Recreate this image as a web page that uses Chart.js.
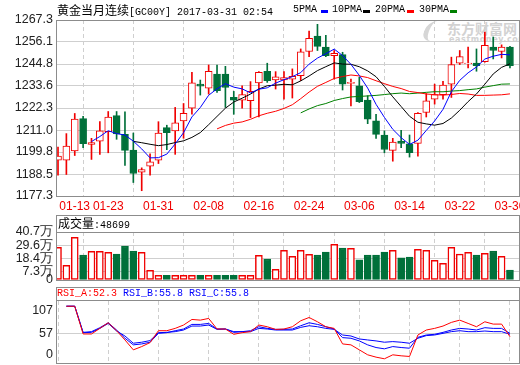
<!DOCTYPE html>
<html><head><meta charset="utf-8">
<script src="https://cdn.jsdelivr.net/npm/chart.js@4"></script>
<style>
body{margin:0;background:#fff;width:520px;height:365px;overflow:hidden;position:relative;}
canvas{position:absolute;left:0;z-index:1;}
.t{position:absolute;font-family:"Liberation Mono",monospace;font-size:10px;line-height:14px;white-space:pre;z-index:3;color:#000;}
.cjk{font-family:"Noto Sans CJK SC";font-size:12px;}
.box{position:absolute;border:1px solid #8c8c8c;box-sizing:border-box;pointer-events:none;z-index:2;}
.sw{position:absolute;height:3px;width:7px;z-index:3;}
.wm{position:absolute;color:#d2d2d2;z-index:0;white-space:pre;}
</style></head>
<body>
<div class="wm" style="left:424px;top:21px;width:14px;height:20px;border-left:5px solid #d6d6d6;border-radius:60% 0 0 60%;transform:skewX(-20deg);"></div>
<div class="wm" style="left:447px;top:18px;font:bold 14px 'Noto Sans CJK SC';">东方财富网</div>
<div class="wm" style="left:449px;top:35px;font:bold 8px 'DejaVu Sans';letter-spacing:0.6px;">eastmoney.com</div>

<div class="t" style="left:57px;top:3px"><span class="cjk">黄金当月连续</span>[GC00Y] 2017-03-31 02:54</div>
<div class="t" style="left:293px;top:3px">5PMA</div><div class="sw" style="left:321px;top:10px;background:#0000ff"></div>
<div class="t" style="left:332px;top:3px">10PMA</div><div class="sw" style="left:363px;top:10px;background:#000"></div>
<div class="t" style="left:375px;top:3px">20PMA</div><div class="sw" style="left:407px;top:10px;background:#ff0000"></div>
<div class="t" style="left:419px;top:3px">30PMA</div><div class="sw" style="left:450px;top:10px;background:#008000"></div>

<div class="box" style="left:56px;top:20px;width:464px;height:177px"></div>
<div class="box" style="left:56px;top:215px;width:464px;height:66px"></div>
<div class="box" style="left:56px;top:215px;width:464px;height:18px"></div>
<div class="box" style="left:56px;top:287px;width:464px;height:77px"></div>
<div class="box" style="left:56px;top:287px;width:464px;height:14px"></div>
<div class="t" style="left:58px;top:216px"><span class="cjk">成交量</span>:48699</div>
<div class="t" style="left:57px;top:287px;line-height:13px"><span style="color:#ff0000">RSI_A:52.3</span> <span style="color:#0000ff">RSI_B:55.8</span> <span style="color:#0000ff">RSI_C:55.8</span></div>

<canvas id="c1" width="520" height="214" style="top:0"></canvas>
<canvas id="c2" width="520" height="67" style="top:220px"></canvas>
<canvas id="c3" width="520" height="75" style="top:290px"></canvas>

<script>
const dates = ['01-13','01-16','01-17','01-18','01-19','01-20','01-23','01-24','01-25','01-26','01-27','01-30','01-31','02-01','02-02','02-03','02-06','02-07','02-08','02-09','02-10','02-13','02-14','02-15','02-16','02-17','02-20','02-21','02-22','02-23','02-24','02-27','02-28','03-01','03-02','03-03','03-06','03-07','03-08','03-09','03-10','03-13','03-14','03-15','03-16','03-17','03-20','03-21','03-22','03-23','03-24','03-27','03-28','03-29','03-30'];
const opens = [1195.6,1195.6,1200.3,1216.9,1203.7,1205.4,1210.2,1218.4,1208.8,1200.8,1189.5,1192.6,1195.6,1212.3,1210.6,1215.7,1222.2,1234.5,1232.5,1239.7,1239.7,1227.7,1226.3,1226.0,1235.1,1241.1,1236.6,1236.6,1237.1,1238.8,1251.2,1259.1,1253.4,1249.0,1249.6,1234.9,1233.7,1226.3,1215.7,1208.5,1200.6,1205.4,1204.0,1204.2,1220.0,1226.8,1229.1,1234.5,1245.2,1245.0,1245.3,1246.0,1253.4,1251.2,1253.4];
const highs = [1202.3,1209.2,1219.5,1218.0,1206.8,1215.3,1220.5,1220.5,1220.3,1209.5,1191.7,1198.9,1215.3,1213.5,1222.6,1224.6,1240.5,1236.6,1244.3,1244.3,1243.6,1230.8,1233.7,1235.8,1240.9,1245.2,1240.9,1240.9,1242.3,1252.5,1261.6,1265.1,1259.4,1251.7,1250.8,1237.1,1238.0,1228.6,1219.1,1210.6,1206.8,1210.9,1208.5,1220.0,1229.7,1234.5,1235.9,1248.3,1251.7,1253.4,1252.5,1261.1,1258.6,1254.6,1253.8];
const lows = [1187.9,1188.3,1198.0,1202.0,1196.0,1198.6,1199.4,1206.3,1192.9,1184.2,1180.0,1187.9,1193.9,1201.0,1198.6,1206.8,1219.1,1228.9,1229.4,1230.3,1222.6,1219.1,1222.2,1217.4,1217.7,1235.4,1232.0,1226.8,1227.4,1236.3,1248.6,1251.7,1248.6,1237.1,1231.5,1223.4,1225.1,1214.3,1206.8,1199.4,1195.1,1202.0,1197.2,1197.7,1217.7,1224.3,1226.8,1227.7,1244.5,1242.8,1241.1,1245.7,1247.4,1247.9,1242.8];
const closes = [1197.7,1202.8,1216.6,1204.0,1204.6,1210.6,1217.7,1209.0,1200.6,1188.8,1190.8,1194.8,1209.5,1209.7,1214.7,1219.6,1235.2,1233.5,1241.1,1231.1,1232.8,1226.3,1229.1,1230.8,1240.6,1236.3,1238.3,1237.9,1238.5,1251.0,1257.9,1253.8,1249.1,1250.3,1234.5,1235.4,1225.6,1216.6,1208.8,1201.1,1204.9,1204.2,1199.4,1219.6,1226.0,1229.1,1234.0,1244.5,1248.6,1245.3,1244.0,1254.3,1251.7,1253.4,1244.0];
const ma5 = [null,null,null,null,1205.14,1207.72,1210.70,1209.18,1208.50,1205.34,1201.38,1196.80,1196.90,1198.72,1203.90,1209.66,1217.74,1222.54,1228.82,1232.10,1234.74,1232.96,1232.08,1230.02,1231.92,1232.62,1235.02,1236.78,1238.32,1240.40,1244.72,1247.82,1250.06,1252.42,1249.12,1244.62,1238.98,1232.48,1224.18,1217.50,1211.40,1207.12,1203.68,1205.84,1210.82,1215.66,1221.62,1230.64,1236.44,1240.30,1243.28,1247.34,1248.78,1249.74,1249.48];
const ma10 = [null,null,null,null,null,null,null,null,null,1205.24,1204.55,1203.75,1203.04,1203.61,1204.62,1205.52,1207.27,1209.72,1213.77,1218.00,1222.20,1225.35,1227.31,1229.42,1232.01,1233.68,1233.99,1234.43,1234.17,1236.16,1238.67,1241.42,1243.42,1245.37,1244.76,1244.67,1243.40,1241.27,1238.30,1233.31,1228.01,1223.05,1218.08,1215.01,1214.16,1213.53,1214.37,1217.16,1221.14,1225.56,1229.47,1234.48,1239.71,1243.09,1244.89];
const ma20 = [null,null,null,null,null,null,null,null,null,null,null,null,null,null,null,null,null,null,null,1211.62,1213.38,1214.55,1215.18,1216.52,1218.32,1219.60,1220.63,1222.08,1223.97,1227.08,1230.44,1233.39,1235.37,1237.40,1238.39,1239.18,1238.70,1237.85,1236.24,1234.74,1233.34,1232.24,1230.75,1230.19,1229.46,1229.10,1228.89,1229.22,1229.72,1229.44,1228.74,1228.77,1228.90,1229.05,1229.53];
const ma30 = [null,null,null,null,null,null,null,null,null,null,null,null,null,null,null,null,null,null,null,null,null,null,null,null,null,null,null,null,null,1219.80,1221.81,1223.51,1224.59,1226.13,1227.13,1227.96,1228.22,1228.47,1228.75,1229.16,1229.63,1229.94,1229.60,1229.93,1230.31,1230.63,1230.59,1230.95,1231.20,1231.68,1232.05,1232.98,1233.74,1234.49,1234.60];
const volumes = [27.7,12.4,36.2,21.2,24.3,24.3,23.5,22.0,28.8,24.6,23.5,8.2,4.0,4.0,4.0,4.0,4.0,4.0,4.0,4.0,4.0,4.0,4.0,4.0,21.0,17.8,9.0,25.2,20.1,25.2,21.8,21.2,23.7,30.2,27.1,26.9,17.0,21.2,21.2,23.7,25.2,18.7,19.5,26.0,25.2,16.7,14.1,27.7,22.0,23.5,21.2,22.6,24.6,20.1,8.5];
const rsiA = [null,100,100,55.9,55.9,64.8,73.7,61.1,46.4,30.7,35.9,42.2,61.1,61.1,64.8,70.1,79.0,77.9,80.6,63.8,63.8,55.4,58.0,59.6,70.1,67.4,63.2,63.8,67.4,76.9,82.1,75.3,67.4,64.8,40.1,38.6,30.7,22.8,19.1,16.5,22.8,21.2,20.2,54.3,62.2,64.8,68.5,74.3,77.9,72.7,67.4,75.3,71.6,71.6,51.7];
const rsiB = [null,100,100,58.5,59.6,65.9,73.7,62.2,49.1,38.6,40.1,42.8,56.9,58.0,61.1,63.8,71.1,71.1,72.7,63.8,63.8,58.5,59.6,61.1,67.4,64.8,63.2,63.2,63.8,69.0,73.7,71.1,67.4,63.8,50.1,49.1,44.9,38.6,34.4,32.3,35.9,34.4,33.3,50.6,54.3,55.4,58.5,62.2,64.8,63.8,62.2,65.9,64.8,64.8,56.9];
const rsiC = [null,100,100,58.0,58.5,64.8,72.7,60.6,52.7,41.2,42.8,45.4,58.0,58.5,59.6,62.2,68.5,68.5,70.1,63.2,63.8,59.6,59.6,59.6,64.8,63.8,62.2,62.2,62.2,66.4,69.0,67.4,64.8,63.2,54.3,52.7,48.0,46.4,44.9,42.8,43.8,42.8,41.2,49.1,53.3,54.3,56.9,59.6,61.1,59.6,59.6,60.6,59.6,59.6,55.4];
const priceTicks = ['1177.3','1188.5','1199.8','1211.0','1222.3','1233.6','1244.8','1256.1','1267.3'];
const volTicks = [0,7.3,18.4,29.6,40.7];
const volTickLabels = ['0','7.3万','18.4万','29.6万','40.7万'];
const rsiTickLabels = ['0','57','107'];

const RED='#f00000', GREEN='#00703a', GRID='#cfcfcf';
const up = closes.map((c,i)=>c>=opens[i]);
const LABEL_FONT={family:'Liberation Sans',size:12.5};

function xAxis(showLabels){
  return {
    type:'linear', min:-0.24, max:55.08, offset:false,
    grid:{color:GRID,lineWidth:1,drawTicks:false},
    border:{display:false,dash:[4,3]},
    ticks:{display:showLabels,color:RED,font:{family:'Liberation Sans',size:12},padding:3,maxRotation:0,autoSkip:false,
      callback:(v)=> v===0 ? '          '+dates[v] : dates[v]},
    afterBuildTicks:s=>{ s.ticks = dates.map((d,i)=>i).filter(i=>i%6===0).map(v=>({value:v})); },
    afterFit:s=>{ s.paddingLeft=0; s.paddingRight=0; s.height = showLabels?18:0; }
  };
}
function yAxis(min,max,tickVals,labels,gridFn){
  return {
    position:'left', min:min, max:max,
    grid:{color:gridFn||GRID,drawTicks:false},
    border:{display:false},
    ticks:{color:'#222',font:LABEL_FONT,padding:3,autoSkip:false,callback:(v,i)=>labels[i]},
    afterBuildTicks:s=>{ s.ticks = tickVals.map(v=>({value:v})); },
    afterFit:s=>{ s.width=56; s.paddingTop=0; s.paddingBottom=0; }
  };
}
const base = {responsive:false,animation:false,devicePixelRatio:1,
  plugins:{legend:{display:false},tooltip:{enabled:false}}};

const line=(data,color)=>({type:'line',data:data.map((v,i)=>({x:i,y:v})),borderColor:color,borderWidth:1,pointRadius:0,tension:0,order:0,spanGaps:false});

new Chart(document.getElementById('c1'),{
  type:'bar',
  data:{datasets:[
    {data:lows.map((l,i)=>({x:i,y:[l,highs[i]]})),backgroundColor:up.map(u=>u?RED:GREEN),barThickness:1,grouped:false,order:3},
    {data:opens.map((o,i)=>({x:i,y:[o,closes[i]]})),backgroundColor:up.map(u=>u?'#ffffff':GREEN),borderColor:up.map(u=>u?RED:GREEN),borderWidth:1,borderSkipped:false,barThickness:7,grouped:false,order:2},
    line(ma5,'#0000ff'),line(ma10,'#000000'),line(ma20,'#ff0000'),line(ma30,'#008000')
  ]},
  options:Object.assign({},base,{
    layout:{padding:{top:20,right:1,left:0,bottom:0}},
    scales:{x:xAxis(true),y:yAxis(1177.3,1267.3,priceTicks.map(Number),priceTicks)}
  })
});

new Chart(document.getElementById('c2'),{
  type:'bar',
  data:{datasets:[
    {data:volumes.map((v,i)=>({x:i,y:v})),backgroundColor:up.map(u=>u?'#ffffff':GREEN),borderColor:up.map(u=>u?RED:GREEN),borderWidth:1.5,borderSkipped:false,barThickness:7,grouped:false}
  ]},
  options:Object.assign({},base,{
    layout:{padding:{top:12,right:1,left:0,bottom:7}},
    scales:{x:xAxis(false),y:yAxis(0,40.7,volTicks,volTickLabels)}
  })
});

const rsiMin=9.8, rsiMax=108.3, rsiSpan=rsiMax-rsiMin;
// edge labels are kept inside the panel, as in the source chart
const rsiTickPos=[rsiMin+rsiSpan*0.132,57,rsiMax-rsiSpan*0.148];
new Chart(document.getElementById('c3'),{
  type:'line',
  data:{datasets:[line(rsiA,'#ff0000'),line(rsiB,'#0000ff'),line(rsiC,'#0000ff')]},
  options:Object.assign({},base,{
    layout:{padding:{top:11,right:1,left:0,bottom:2}},
    scales:{x:xAxis(false),y:yAxis(rsiMin,rsiMax,rsiTickPos,rsiTickLabels,(c)=>c.index===1?GRID:'rgba(0,0,0,0)')}
  })
});
</script>
</body></html>
